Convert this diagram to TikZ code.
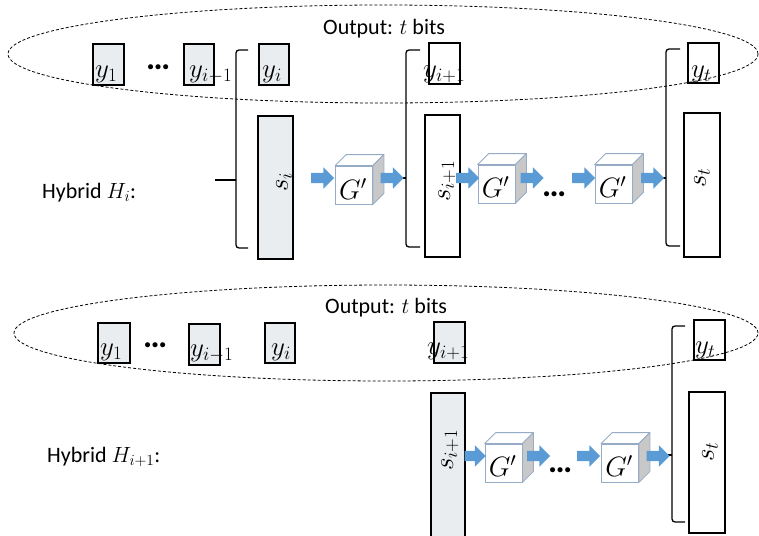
\documentclass[tikz,border=0pt]{standalone}
\usepackage{fix-cm}
\usepackage{fontspec}
\setmainfont{Carlito}
\usetikzlibrary{shapes.geometric,shapes.arrows,calc}
\definecolor{arrowblue}{RGB}{91,155,213}
\definecolor{cubeedge}{RGB}{150,172,198}
\definecolor{cubeside}{RGB}{200,200,200}
\definecolor{dotfill}{RGB}{234,237,240}
\newcommand\cubefaces[1]{%
  \draw[cubeline, fill=white] (#1.north west) -- ++(11,-11) -- ($(#1.north east)+(11pt,11pt)$) -- (#1.north east) -- cycle;
  \draw[cubeline, fill=cubeside] (#1.north east) -- ($(#1.north east)+(11pt,11pt)$) -- ($(#1.south east)+(11pt,11pt)$) -- (#1.south east) -- cycle;
}
\begin{document}
\begin{tikzpicture}[x=1pt,y=-1pt,
  font=\fontsize{22}{26}\selectfont,
  box/.style={draw, line width=1.5pt, inner sep=0pt},
  ybox/.style={box, minimum width=31pt, minimum height=41pt},
  sbox/.style={box, minimum width=35pt, minimum height=143pt},
  shaded/.style={fill=dotfill},
  txt/.style={inner sep=0pt, anchor=base west},
  mtxt/.style={inner sep=0pt, anchor=base west, font=\fontsize{27}{30}\selectfont},
  stxt/.style={inner sep=0pt, rotate=90, font=\fontsize{27}{30}\selectfont},
  gtxt/.style={inner sep=0pt, anchor=base, font=\fontsize{28}{30}\selectfont},
  outline/.style={draw, dashed, dash pattern=on 3pt off 2pt, line width=0.8pt, ellipse, inner sep=0pt},
  barrow/.style={single arrow, fill=arrowblue, draw=none, inner sep=0pt, text height=5pt, text depth=5pt, text width=0pt, single arrow head extend=5.5pt, single arrow tip angle=90, minimum height=23pt},
  cubefront/.style={draw=cubeedge, line width=0.8pt, fill=white, minimum width=37pt, minimum height=38pt, inner sep=0pt},
  cubeline/.style={draw=cubeedge, line width=0.8pt, line join=round},
  bracket/.style={line width=1.3pt, rounded corners=3pt},
  dotstxt/.style={inner sep=0pt, anchor=base west, font=\fontsize{34}{36}\selectfont\bfseries}
]
\useasboundingbox (0,0) rectangle (759,535);

% ================= TOP PANEL =================
\node[outline, minimum width=750pt, minimum height=98pt] (ell1) at (383,54) {};
\node[txt] (out1) at (323,35) {Output: $t$ bits};

\node[ybox, shaded] (ty1) at (108.5,64.5) {};
\node[mtxt] (tty1) at (95,77) {$y_1$};
\node[dotstxt] (tdots1) at (146,69) {…};
\node[ybox, shaded, minimum width=30pt] (tyim1) at (199,64.5) {};
\node[mtxt] (ttyim1) at (189,77) {$y_{i-1}$};
\node[ybox, shaded, minimum width=30pt] (tyi) at (274,64.5) {};
\node[mtxt] (ttyi) at (262,77) {$y_i$};
\node[ybox] (tyip1) at (444.5,63.5) {};
\node[mtxt] (ttyip1) at (423,77) {$y_{i+1}$};
\node[ybox, minimum height=40pt] (tyt) at (703.5,63) {};
\node[mtxt] (ttyt) at (691,77) {$y_t$};

\node[sbox, shaded] (tsi) at (275.5,187.5) {};
\node[stxt] (ttsi) at (284,182) {$s_i$};
\node[sbox, minimum height=142pt] (tsip1) at (442.5,186) {};
\node[stxt] (ttsip1) at (447,181) {$s_{i+1}$};
\node[sbox, minimum width=36pt, minimum height=144pt] (tst) at (702,185) {};
\node[stxt] (ttst) at (702,178) {$s_t$};

\node[txt] (hyb1) at (42,198) {Hybrid $H_i$:};

% brackets
\coordinate (tb1) at (236,180);
\draw[bracket] (248,50) -- (236,50) -- (236,248) -- (248,248);
\draw[line width=1.3pt] (tb1) -- ++(-21,0);
\coordinate (tb2) at (406,178);
\draw[bracket] (420,50) -- (406,50) -- (406,247) -- (420,247);
\draw[line width=1.3pt] (tb2) -- ++(-4,0);
\coordinate (tb3) at (666,178);
\draw[bracket] (680,49) -- (666,49) -- (666,246) -- (680,246);
\draw[line width=1.3pt] (tb3) -- ++(-4,0);

% cubes
\node[cubefront] (tc1) at (354,185) {};
\cubefaces{tc1}
\node[gtxt] (tg1) at ([xshift=-1pt,yshift=5pt]tc1.south) {$G'$};
\node[cubefront] (tc2) at (496.5,184) {};
\cubefaces{tc2}
\node[gtxt] (tg2) at ([xshift=-1pt,yshift=6pt]tc2.south) {$G'$};
\node[cubefront] (tc3) at (613.5,184) {};
\cubefaces{tc3}
\node[gtxt] (tg3) at ([xshift=-1pt,yshift=6pt]tc3.south) {$G'$};

% arrows
\node[barrow] (ta1) at (320,178) {};
\node[barrow] (ta2) at (389.5,178) {};
\node[barrow] (ta3) at (465,178) {};
\node[barrow] (ta4) at (529.5,178) {};
\node[dotstxt] (tdots2) at (542,196) {…};
\node[barrow] (ta5) at (581,178) {};
\node[barrow] (ta6) at (650,178) {};

% ================= BOTTOM PANEL =================
\node[outline, minimum width=744pt, minimum height=96pt] (ell2) at (386,333) {};
\node[txt] (out2) at (325,313) {Output: $t$ bits};

\node[ybox, shaded, minimum width=32pt, minimum height=40pt] (by1) at (114,343) {};
\node[mtxt] (bty1) at (100,355) {$y_1$};
\node[dotstxt] (bdots1) at (143,347) {…};
\node[ybox, shaded] (byim1) at (204.5,344.5) {};
\node[mtxt] (btyim1) at (190,356) {$y_{i-1}$};
\node[ybox, shaded, minimum width=30pt, minimum height=40pt] (byi) at (280,343) {};
\node[mtxt] (btyi) at (271,355) {$y_i$};
\node[ybox, shaded] (byip1) at (449.5,342.5) {};
\node[mtxt] (btyip1) at (427,354) {$y_{i+1}$};
\node[ybox, minimum height=40pt] (byt) at (709.5,340) {};
\node[mtxt] (btyt) at (695,353) {$y_t$};

\node[sbox, shaded, minimum width=34pt, minimum height=160pt] (bsip1) at (448,473) {};
\node[stxt] (btsip1) at (450,450) {$s_{i+1}$};
\node[sbox, minimum width=36pt, minimum height=141pt] (bst) at (707,462.5) {};
\node[stxt] (btst) at (710,452) {$s_t$};

\node[txt] (hyb2) at (47,462) {Hybrid $H_{i+1}$:};

\coordinate (bb1) at (672,455);
\draw[bracket] (685,326) -- (672,326) -- (672,522) -- (685,522);
\draw[line width=1.3pt] (bb1) -- ++(-4,0);

\node[cubefront] (bc1) at (503.5,463) {};
\cubefaces{bc1}
\node[gtxt] (bg1) at ([xshift=-1pt,yshift=6pt]bc1.south) {$G'$};
\node[cubefront] (bc2) at (620,463) {};
\cubefaces{bc2}
\node[gtxt] (bg2) at ([xshift=-1pt,yshift=6pt]bc2.south) {$G'$};

\node[barrow, minimum height=21pt] (ba1) at (472.5,456) {};
\node[barrow] (ba2) at (536,456) {};
\node[dotstxt] (bdots2) at (548,472) {…};
\node[barrow] (ba3) at (586,456) {};
\node[barrow] (ba4) at (655.5,456) {};
\end{tikzpicture}
\end{document}
